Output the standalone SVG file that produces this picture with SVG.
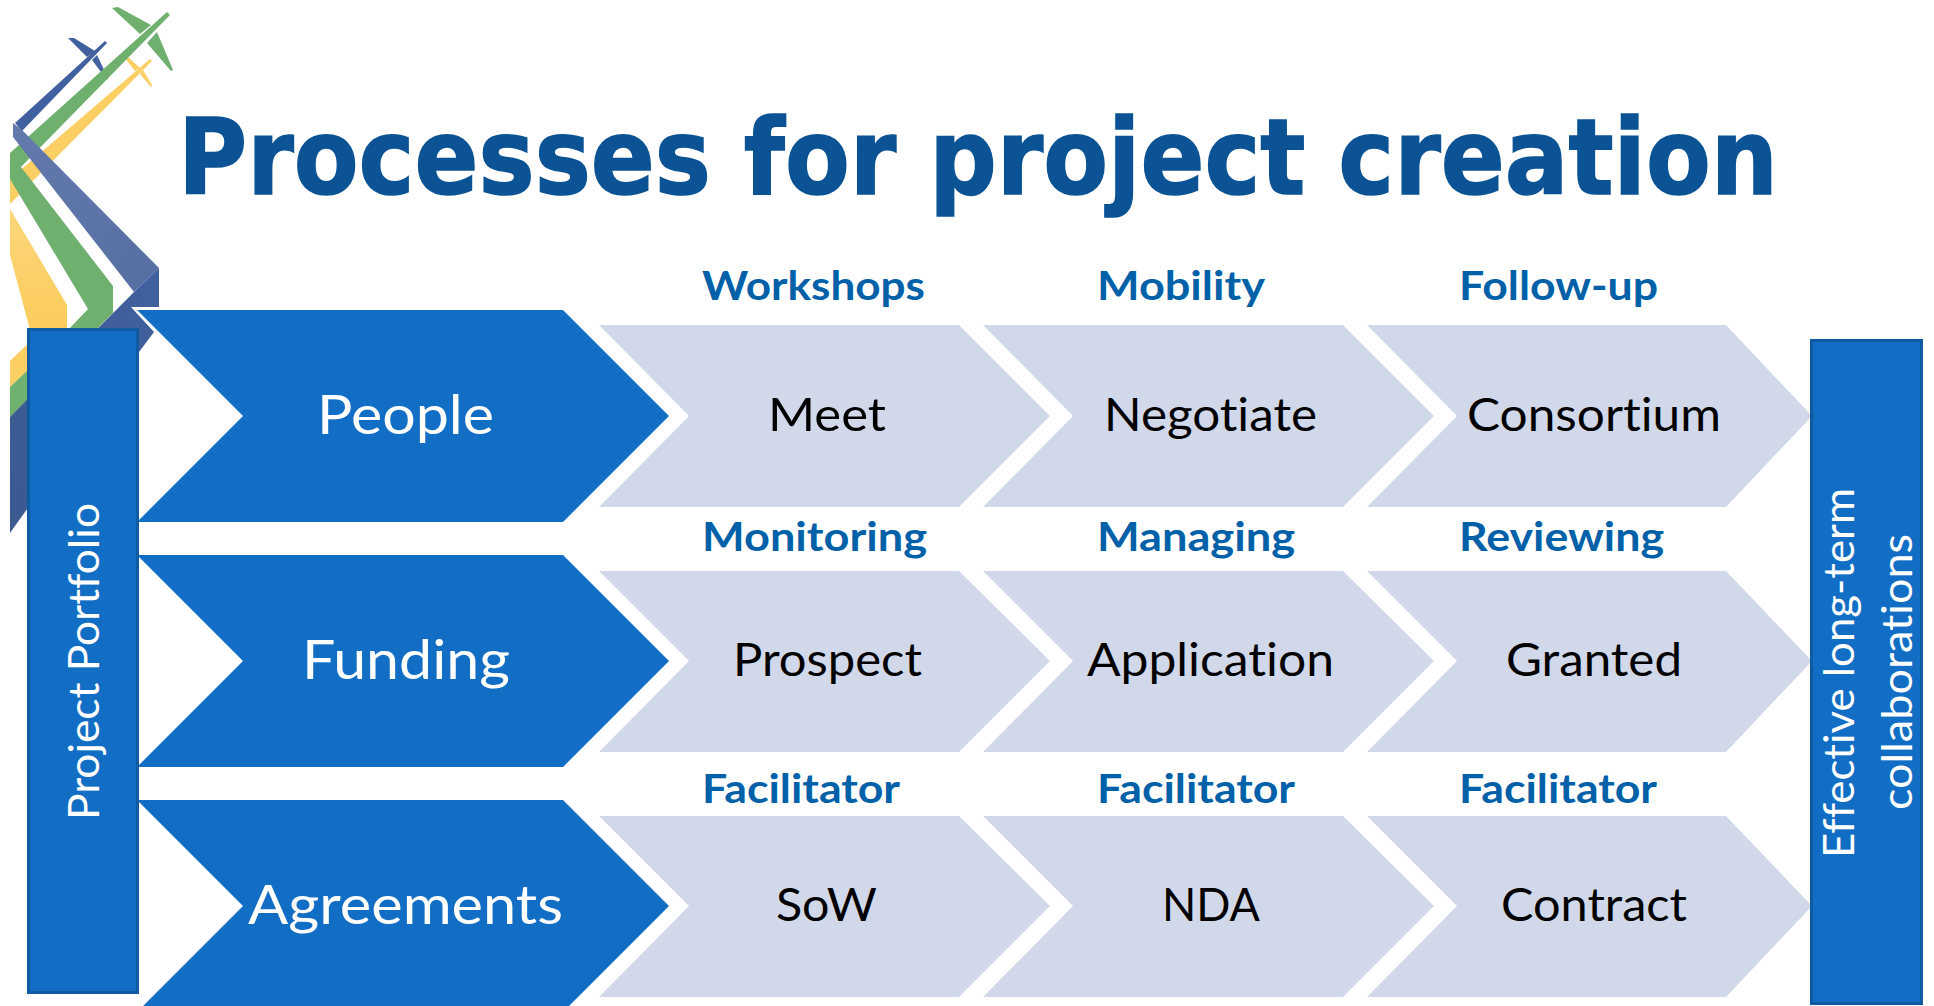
<svg xmlns="http://www.w3.org/2000/svg" width="1934" height="1006" viewBox="0 0 1934 1006">
<style>
text{font-family:"Lato","Liberation Sans",sans-serif;font-variant-ligatures:none}
.title{font-family:"DejaVu Sans","Open Sans",sans-serif;font-weight:700;font-size:106px;fill:#0B5394;stroke:#0B5394;stroke-width:1.6}
.head{fill:#116EC4}
.step{fill:#D0D8E9}
.side{fill:#116EC4;stroke:#0E5AA3;stroke-width:3}
.hl{font-size:55px;fill:#fff}
.sl{font-size:46px;fill:#000}
.cap{font-size:41px;font-weight:700;fill:#0060A8}
.vl{font-size:42px;fill:#fff}
</style>
<defs>
<linearGradient id="gb" x1="0" y1="0" x2="1" y2="1"><stop offset="0" stop-color="#6479AC"/><stop offset="1" stop-color="#556FA3"/></linearGradient>
<linearGradient id="gd" x1="1" y1="0" x2="0" y2="1"><stop offset="0" stop-color="#41609F"/><stop offset="1" stop-color="#3A5A90"/></linearGradient>
<linearGradient id="gy" x1="0" y1="0" x2="0" y2="1"><stop offset="0" stop-color="#FBD67A"/><stop offset="1" stop-color="#FBCC5C"/></linearGradient>
</defs>
<rect width="1934" height="1006" fill="#fff"/>
<g id="logo">
<g fill="#41609F">
<polygon points="15,123 105,41 107,43 22,131"/>
<polygon points="68,38 74,38 95,51 87,57"/>
<polygon points="97,55 92,60 107,80 108,78"/>
</g>
<g fill="#FBCF63">
<polygon points="10,179 150,59 152,61 10,204"/>
<polygon points="124,57 128,57 140,68 135,71"/>
<polygon points="143,70 140,74 151,87 152,85"/>
<polygon points="10,209 67,305 67,330 30,330 10,255" fill="url(#gy)"/>
<polygon points="10,361 40,332 50,350 10,387"/>
</g>
<g fill="#6FB06E">
<polygon points="10,153 167,12 170,15 21,167 113,286 113,313 96,330 68,330 88,309 10,179"/>
<polygon points="112,8 118,7 151,25 140,34"/>
<polygon points="157,32 147,43 171,71 173,70"/>
<polygon points="10,387 60,340 80,350 10,417"/>
</g>
<polygon points="13,123 22,130 159,268 134,292 13,137" fill="url(#gb)"/>
<polygon points="159,268 134,292 10,417 10,533 139,352 154,332 131,307 159,307" fill="url(#gd)"/>
</g>
<g id="title"><text class="title" transform="translate(178 194) scale(.8 1)" textLength="2000" lengthAdjust="spacingAndGlyphs">Processes for project creation</text></g>
<g id="head-people"><polygon class="head" points="137,310 563,310 669,416 563,522 137,522 243,416"/><text class="hl" x="317" y="434" textLength="177" lengthAdjust="spacingAndGlyphs">People</text></g>
<g id="head-funding"><polygon class="head" points="137,555 563,555 669,661 563,767 137,767 243,661"/><text class="hl" x="302" y="679" textLength="208" lengthAdjust="spacingAndGlyphs">Funding</text></g>
<g id="head-agreements"><polygon class="head" points="137,800 563,800 669,906 563,1012 137,1012 243,906"/><text class="hl" x="248" y="924" textLength="315" lengthAdjust="spacingAndGlyphs">Agreements</text></g>
<g id="step-meet"><polygon class="step" points="599,325 959,325 1050,416 959,507 599,507 689,416"/><text class="sl" x="768" y="431" textLength="118" lengthAdjust="spacingAndGlyphs">Meet</text></g>
<g id="step-negotiate"><polygon class="step" points="983,325 1343,325 1434,416 1343,507 983,507 1073,416"/><text class="sl" x="1104" y="431" textLength="213" lengthAdjust="spacingAndGlyphs">Negotiate</text></g>
<g id="step-consortium"><polygon class="step" points="1367,325 1726,325 1812,416 1726,507 1367,507 1457,416"/><text class="sl" x="1467" y="431" textLength="254" lengthAdjust="spacingAndGlyphs">Consortium</text></g>
<g id="step-prospect"><polygon class="step" points="599,571 959,571 1050,661 959,752 599,752 689,661"/><text class="sl" x="733" y="676" textLength="189" lengthAdjust="spacingAndGlyphs">Prospect</text></g>
<g id="step-application"><polygon class="step" points="983,571 1343,571 1434,661 1343,752 983,752 1073,661"/><text class="sl" x="1087" y="676" textLength="247" lengthAdjust="spacingAndGlyphs">Application</text></g>
<g id="step-granted"><polygon class="step" points="1367,571 1726,571 1812,661 1726,752 1367,752 1457,661"/><text class="sl" x="1506" y="676" textLength="176" lengthAdjust="spacingAndGlyphs">Granted</text></g>
<g id="step-sow"><polygon class="step" points="599,816 959,816 1050,906 959,997 599,997 689,906"/><text class="sl" x="776" y="921" textLength="101" lengthAdjust="spacingAndGlyphs">SoW</text></g>
<g id="step-nda"><polygon class="step" points="983,816 1343,816 1434,906 1343,997 983,997 1073,906"/><text class="sl" x="1162" y="921" textLength="98" lengthAdjust="spacingAndGlyphs">NDA</text></g>
<g id="step-contract"><polygon class="step" points="1367,816 1726,816 1812,906 1726,997 1367,997 1457,906"/><text class="sl" x="1501" y="921" textLength="186" lengthAdjust="spacingAndGlyphs">Contract</text></g>
<g id="captions">
<text class="cap" x="702" y="300" textLength="223" lengthAdjust="spacingAndGlyphs">Workshops</text>
<text class="cap" x="1097" y="300" textLength="168" lengthAdjust="spacingAndGlyphs">Mobility</text>
<text class="cap" x="1459" y="300" textLength="199" lengthAdjust="spacingAndGlyphs">Follow-up</text>
<text class="cap" x="702" y="551" textLength="225" lengthAdjust="spacingAndGlyphs">Monitoring</text>
<text class="cap" x="1097" y="551" textLength="198" lengthAdjust="spacingAndGlyphs">Managing</text>
<text class="cap" x="1459" y="551" textLength="205" lengthAdjust="spacingAndGlyphs">Reviewing</text>
<text class="cap" x="702" y="803" textLength="198" lengthAdjust="spacingAndGlyphs">Facilitator</text>
<text class="cap" x="1097" y="803" textLength="198" lengthAdjust="spacingAndGlyphs">Facilitator</text>
<text class="cap" x="1459" y="803" textLength="198" lengthAdjust="spacingAndGlyphs">Facilitator</text>
</g>
<g id="project-portfolio"><rect class="side" x="28.5" y="329.5" width="109" height="663"/><text class="vl" transform="translate(99 820) rotate(-90)" textLength="317" lengthAdjust="spacingAndGlyphs">Project Portfolio</text></g>
<g id="collaborations"><rect class="side" x="1811.5" y="340.5" width="110" height="663"/><text class="vl" transform="translate(1854 858) rotate(-90)" textLength="370" lengthAdjust="spacingAndGlyphs">Effective long-term</text><text class="vl" transform="translate(1912 810) rotate(-90)" textLength="276" lengthAdjust="spacingAndGlyphs">collaborations</text></g>
</svg>
